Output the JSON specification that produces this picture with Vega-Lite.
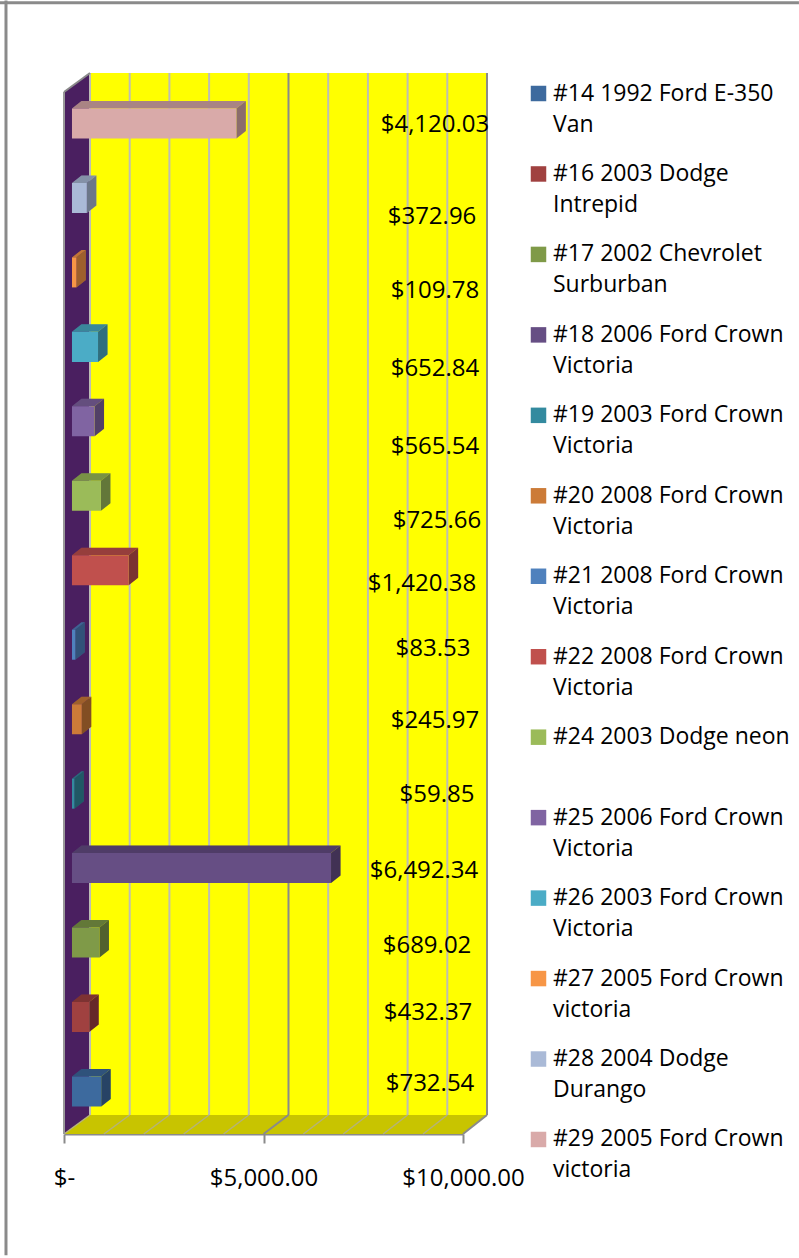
{
"$schema":"https://vega.github.io/schema/vega-lite/v6.json",
"width":399,"height":1061,
"padding":{"left":64,"top":73,"right":336,"bottom":124},
"autosize":{"type":"none"},
"background":"white",
"config":{"font":"Open Sans","view":{"stroke":null},"style":{"guide-label":{"lineHeight":31}}},
"datasets":{
"barRows":[
{"order":1,"name":"#14 1992 Ford E-350\nVan","value":732.54},
{"order":2,"name":"#16 2003 Dodge\nIntrepid","value":432.37},
{"order":3,"name":"#17 2002 Chevrolet\nSurburban","value":689.02},
{"order":4,"name":"#18 2006 Ford Crown\nVictoria","value":6492.34},
{"order":5,"name":"#19 2003 Ford Crown\nVictoria","value":59.85},
{"order":6,"name":"#20 2008 Ford Crown\nVictoria","value":245.97},
{"order":7,"name":"#21 2008 Ford Crown\nVictoria","value":83.53},
{"order":8,"name":"#22 2008 Ford Crown\nVictoria","value":1420.38},
{"order":9,"name":"#24 2003 Dodge neon\n ","value":725.66},
{"order":10,"name":"#25 2006 Ford Crown\nVictoria","value":565.54},
{"order":11,"name":"#26 2003 Ford Crown\nVictoria","value":652.84},
{"order":12,"name":"#27 2005 Ford Crown\nvictoria","value":109.78},
{"order":13,"name":"#28 2004 Dodge\nDurango","value":372.96},
{"order":14,"name":"#29 2005 Ford Crown\nvictoria","value":4120.03}
],
"tickRows":[{"tick":0},{"tick":1000},{"tick":2000},{"tick":3000},{"tick":4000},{"tick":5000},{"tick":6000},{"tick":7000},{"tick":8000},{"tick":9000},{"tick":10000}],
"oneRow":[{"f":1}],
"depthRows":[{"d":0},{"d":1}]
},
"layer":[
{"data":{"name":"oneRow"},
 "transform":[{"calculate":"-1604","as":"a"},{"calculate":"18420","as":"b"},{"calculate":"15.62","as":"c"}],
 "mark":{"type":"rule","color":"#8a8a8a","strokeWidth":3},
 "encoding":{"x":{"field":"a","type":"quantitative","title":null,"scale":{"domain":[0,10000],"nice":false,"zero":false},"axis":{"values":[0,5000,10000],"title":null,"labelExpr":"datum.value==0?'$-\u00a0\u00a0':format(datum.value,'$,.2f')","labelFontSize":24,"labelColor":"#000","labelPadding":23,"labelFlush":false,"tickSize":9,"tickWidth":2,"tickColor":"#8a8a8a","domainColor":"#8a8a8a","domainWidth":2,"grid":false}},
 "x2":{"field":"b"},
 "y":{"field":"c","type":"quantitative","scale":{"domain":[0.4292,14.678],"nice":false,"zero":false},"axis":null}}},
{"data":{"name":"oneRow"},
 "transform":[{"calculate":"-1454","as":"a"},{"calculate":"15.65","as":"c"},{"calculate":"-1.2","as":"e"}],
 "mark":{"type":"rule","color":"#8a8a8a","strokeWidth":3},
 "encoding":{"x":{"field":"a","type":"quantitative","title":null},"y":{"field":"c","type":"quantitative","axis":null},"y2":{"field":"e"}}},
{"data":{"name":"oneRow"},
 "transform":[{"calculate":"651.6","as":"a"},{"calculate":"10600","as":"b"},{"calculate":"0.6844","as":"c"},{"calculate":"14.678","as":"e"}],
 "mark":{"type":"rect","color":"#ffff00"},
 "encoding":{"x":{"field":"a","type":"quantitative","title":null},"x2":{"field":"b"},"y":{"field":"c","type":"quantitative","axis":null},"y2":{"field":"e"}}},
{"data":{"name":"depthRows"},
 "transform":[{"calculate":"datum.d*651.6","as":"xw"},{"calculate":"0.4292+datum.d*0.2552","as":"lo"},{"calculate":"14.423+datum.d*0.255","as":"hi"}],
 "mark":{"type":"area","color":"#4a1f60","orient":"vertical"},
 "encoding":{"x":{"field":"xw","type":"quantitative","title":null},"y":{"field":"lo","type":"quantitative","axis":null},"y2":{"field":"hi"}}},
{"data":{"name":"depthRows"},
 "transform":[{"calculate":"datum.d*651.6","as":"xl"},{"calculate":"10000+datum.d*600","as":"xr"},{"calculate":"0.4292+datum.d*0.2552","as":"yf"}],
 "mark":{"type":"area","color":"#c8c400","orient":"horizontal"},
 "encoding":{"y":{"field":"yf","type":"quantitative","axis":null},"x":{"field":"xl","type":"quantitative","title":null},"x2":{"field":"xr"}}},
{"data":{"name":"tickRows"},
 "transform":[{"filter":"datum.tick!=5000&&datum.tick!=10000"},{"calculate":"datum.tick*0.995+651.6","as":"xb"},{"calculate":"0.6844","as":"c"},{"calculate":"14.678","as":"e"}],
 "mark":{"type":"rule","strokeWidth":2,"color":"#bdbdb5"},
 "encoding":{"x":{"field":"xb","type":"quantitative","title":null},"y":{"field":"c","type":"quantitative","axis":null},"y2":{"field":"e"}}},
{"data":{"name":"tickRows"},
 "transform":[{"filter":"datum.tick==5000||datum.tick==10000"},{"calculate":"datum.tick*0.995+651.6","as":"xb"},{"calculate":"0.6844","as":"c"},{"calculate":"14.678","as":"e"}],
 "mark":{"type":"rule","strokeWidth":2,"color":"#8a8a8a"},
 "encoding":{"x":{"field":"xb","type":"quantitative","title":null},"y":{"field":"c","type":"quantitative","axis":null},"y2":{"field":"e"}}},
{"data":{"name":"tickRows"},
 "transform":[{"filter":"datum.tick!=5000&&datum.tick!=10000"},{"calculate":"datum.tick*0.995+651.6","as":"xb"},{"calculate":"0.4292","as":"c"},{"calculate":"0.6844","as":"e"}],
 "mark":{"type":"rule","strokeWidth":1.5,"color":"#b4b27a"},
 "encoding":{"x":{"field":"tick","type":"quantitative","title":null},"x2":{"field":"xb"},"y":{"field":"c","type":"quantitative","axis":null},"y2":{"field":"e"}}},
{"data":{"name":"tickRows"},
 "transform":[{"filter":"datum.tick==5000||datum.tick==10000"},{"calculate":"datum.tick*0.995+651.6","as":"xb"},{"calculate":"0.4292","as":"c"},{"calculate":"0.6844","as":"e"}],
 "mark":{"type":"rule","strokeWidth":2,"color":"#8a8a8a"},
 "encoding":{"x":{"field":"tick","type":"quantitative","title":null},"x2":{"field":"xb"},"y":{"field":"c","type":"quantitative","axis":null},"y2":{"field":"e"}}},
{"data":{"name":"oneRow"},
 "transform":[{"calculate":"0","as":"a"},{"calculate":"0.4292","as":"c"},{"calculate":"14.423","as":"e"}],
 "mark":{"type":"rule","color":"#999999","strokeWidth":2},
 "encoding":{"x":{"field":"a","type":"quantitative","title":null},"y":{"field":"c","type":"quantitative","axis":null},"y2":{"field":"e"}}},
{"data":{"name":"oneRow"},
 "transform":[{"calculate":"0","as":"a"},{"calculate":"651.6","as":"b"},{"calculate":"14.423","as":"c"},{"calculate":"14.678","as":"e"}],
 "mark":{"type":"rule","color":"#8a8a8a","strokeWidth":2},
 "encoding":{"x":{"field":"a","type":"quantitative","title":null},"x2":{"field":"b"},"y":{"field":"c","type":"quantitative","axis":null},"y2":{"field":"e"}}},
{"data":{"name":"barRows"},
 "transform":[{"calculate":"[0,1]","as":"ds"},{"flatten":["ds"]},{"calculate":"datum.order+0.2015+datum.ds*0.1007","as":"ty"},{"calculate":"200+datum.ds*238","as":"tx0"},{"calculate":"200+datum.value+datum.ds*238","as":"tx1"}],
 "mark":{"type":"area","orient":"horizontal"},
 "encoding":{"y":{"field":"ty","type":"quantitative","axis":null},"x":{"field":"tx0","type":"quantitative","title":null},"x2":{"field":"tx1"},"color":{"field":"name","type":"nominal"}}},
{"data":{"name":"barRows"},
 "transform":[{"calculate":"[0,1]","as":"ds"},{"flatten":["ds"]},{"calculate":"datum.order+0.2015+datum.ds*0.1007","as":"ty"},{"calculate":"200+datum.ds*238","as":"tx0"},{"calculate":"200+datum.value+datum.ds*238","as":"tx1"}],
 "mark":{"type":"area","orient":"horizontal","color":"#000","opacity":0.22},
 "encoding":{"y":{"field":"ty","type":"quantitative","axis":null},"x":{"field":"tx0","type":"quantitative","title":null},"x2":{"field":"tx1"},"detail":{"field":"order","type":"nominal"}}},
{"data":{"name":"barRows"},
 "transform":[{"calculate":"[0,1]","as":"ds"},{"flatten":["ds"]},{"calculate":"datum.order+0.2015+datum.ds*0.1007","as":"st"},{"calculate":"datum.order-0.2015+datum.ds*0.1007","as":"sb"},{"calculate":"200+datum.value+datum.ds*238","as":"sx"}],
 "mark":{"type":"area","orient":"vertical"},
 "encoding":{"x":{"field":"sx","type":"quantitative","title":null},"y":{"field":"sb","type":"quantitative","axis":null},"y2":{"field":"st"},"color":{"field":"name","type":"nominal"}}},
{"data":{"name":"barRows"},
 "transform":[{"calculate":"[0,1]","as":"ds"},{"flatten":["ds"]},{"calculate":"datum.order+0.2015+datum.ds*0.1007","as":"st"},{"calculate":"datum.order-0.2015+datum.ds*0.1007","as":"sb"},{"calculate":"200+datum.value+datum.ds*238","as":"sx"}],
 "mark":{"type":"area","orient":"vertical","color":"#000","opacity":0.36},
 "encoding":{"x":{"field":"sx","type":"quantitative","title":null},"y":{"field":"sb","type":"quantitative","axis":null},"y2":{"field":"st"},"detail":{"field":"order","type":"nominal"}}},
{"data":{"name":"barRows"},
 "transform":[{"calculate":"datum.order+0.2015","as":"t"},{"calculate":"datum.order-0.2015","as":"b"},{"calculate":"200+datum.value","as":"s0"},{"calculate":"200","as":"s1"}],
 "mark":{"type":"rect"},
 "encoding":{"x":{"field":"s1","type":"quantitative","title":null},"x2":{"field":"s0"},"y":{"field":"b","type":"quantitative","axis":null},"y2":{"field":"t"},
 "color":{"field":"name","type":"nominal",
 "scale":{"domain":["#14 1992 Ford E-350\nVan","#16 2003 Dodge\nIntrepid","#17 2002 Chevrolet\nSurburban","#18 2006 Ford Crown\nVictoria","#19 2003 Ford Crown\nVictoria","#20 2008 Ford Crown\nVictoria","#21 2008 Ford Crown\nVictoria","#22 2008 Ford Crown\nVictoria","#24 2003 Dodge neon\n ","#25 2006 Ford Crown\nVictoria","#26 2003 Ford Crown\nVictoria","#27 2005 Ford Crown\nvictoria","#28 2004 Dodge\nDurango","#29 2005 Ford Crown\nvictoria"],
 "range":["#3d6a9e","#a04140","#7f9a48","#664e84","#338a9f","#cc7b38","#4f81bd","#c0504d","#9bbb59","#8064a2","#4bacc6","#f79646","#aabad7","#d9aaa9"]},
 "legend":{"orient":"none","legendX":463,"legendY":9,"title":null,"symbolType":"square","symbolSize":240,"symbolStrokeWidth":0,"labelFontSize":23,"labelColor":"#000","labelLimit":300,"labelOffset":3,"padding":0,"rowPadding":25.46,"labelExpr":"split(datum.label,'\\n')"}}}},
{"data":{"name":"barRows"},
 "transform":[{"calculate":"[9173,9123,9098,9023,9348,9298,9248,8972,9348,9298,9298,9298,9223,9298][datum.order-1]","as":"lx"},{"calculate":"[1.114,2.068,2.967,3.975,4.995,5.989,6.956,7.829,8.675,9.669,10.717,11.764,12.758,13.993][datum.order-1]","as":"ly"}],
 "mark":{"type":"text","fontSize":24,"color":"#000","baseline":"middle","align":"center","dy":1},
 "encoding":{"x":{"field":"lx","type":"quantitative","title":null},"y":{"field":"ly","type":"quantitative","axis":null},"text":{"field":"value","type":"quantitative","format":"$,.2f"}}}
]
}
